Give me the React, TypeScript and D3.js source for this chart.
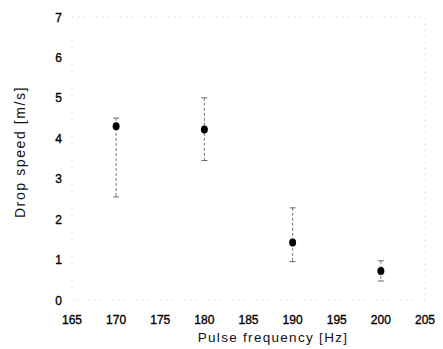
import React from "react";
import * as d3 from "d3";

const freqs = [170, 180, 190, 200];
const speeds = [4.3, 4.22, 1.42, 0.72];
const errLow = [2.55, 3.45, 0.95, 0.47];
const errHigh = [4.5, 5.0, 2.28, 0.97];
const xTicks = [165, 170, 175, 180, 185, 190, 195, 200, 205];
const yTicks = [0, 1, 2, 3, 4, 5, 6, 7];

export default function App() {
  const W = 443, H = 349;
  const x = d3.scaleLinear().domain([165, 205]).range([72, 425]);
  const y = d3.scaleLinear().domain([0, 7]).range([300, 17]);
  const font = "'Liberation Sans', Arial, sans-serif";
  return (
    <svg width={W} height={H} style={{ position: "absolute", left: 0, top: 0, background: "#fff" }}>
      <rect x={x(165)} y={y(7)} width={x(205) - x(165)} height={y(0) - y(7)}
        fill="none" stroke="#ccc" strokeWidth={1} strokeDasharray="1 5" />
      {yTicks.map((t) => (
        <text key={"y" + t} x={62} y={y(t) + 4.5} textAnchor="end" fontSize={12}
          fontFamily={font} fill="#000" stroke="#000" strokeWidth={0.35}>{t}</text>
      ))}
      {xTicks.map((t) => (
        <text key={"x" + t} x={x(t)} y={324} textAnchor="middle" fontSize={12}
          fontFamily={font} fill="#000" stroke="#000" strokeWidth={0.35}>{t}</text>
      ))}
      {freqs.map((f, i) => (
        <g key={"e" + f}>
          <line x1={x(f)} x2={x(f)} y1={y(errHigh[i])} y2={y(errLow[i])}
            stroke="#777" strokeWidth={1} strokeDasharray="3 2" />
          <line x1={x(f) - 3} x2={x(f) + 3} y1={y(errHigh[i])} y2={y(errHigh[i])}
            stroke="#666" strokeWidth={1} />
          <line x1={x(f) - 3} x2={x(f) + 3} y1={y(errLow[i])} y2={y(errLow[i])}
            stroke="#666" strokeWidth={1} />
          <ellipse cx={x(f)} cy={y(speeds[i])} rx={3.5} ry={4} fill="#000" />
        </g>
      ))}
      <text x={273} y={342} textAnchor="middle" fontSize={13.5}
        letterSpacing={1.3} fontFamily={font} fill="#111">Pulse frequency [Hz]</text>
      <text transform={`translate(25,152) rotate(-90)`} textAnchor="middle"
        fontSize={14} letterSpacing={1.6} fontFamily={font} fill="#111">Drop speed [m/s]</text>
    </svg>
  );
}
